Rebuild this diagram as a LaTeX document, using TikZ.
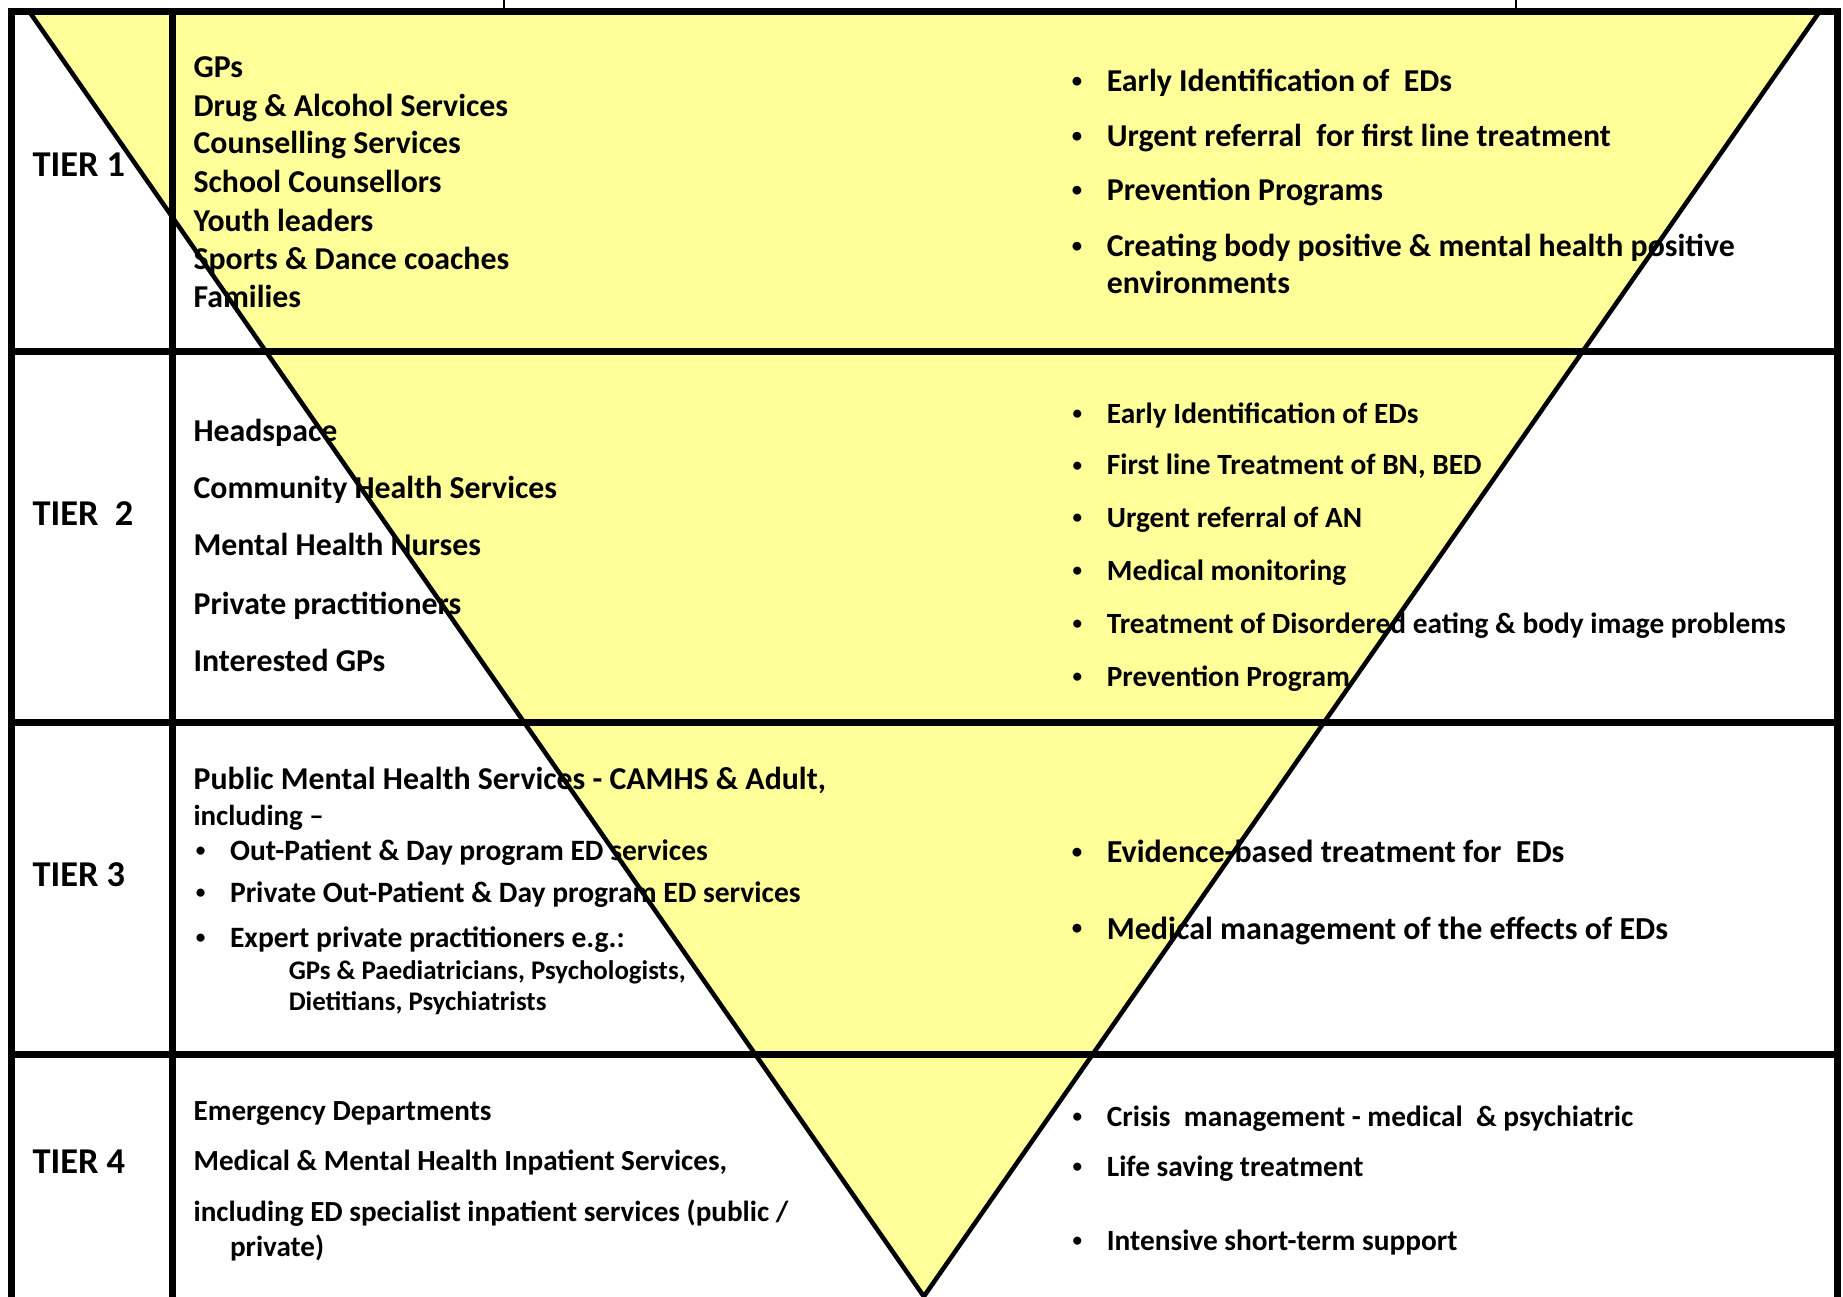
\documentclass[tikz,border=0pt]{standalone}
\usepackage{fontspec}
\usepackage{graphicx}
\setmainfont{Carlito}
\definecolor{pyramid}{HTML}{FFFF99}
\newcommand\bul{\llap{\raisebox{0.13em}{\scalebox{0.65}{\textbullet}}\hspace{0.21cm}}}

\begin{document}
\begin{tikzpicture}[x=0.01cm, y=-0.01cm,
    frame/.style={line width=1.7pt},
    cone/.style={line width=1.1pt},
    tier/.style={anchor=base west, inner sep=0pt, font=\bfseries\fontsize{8.8}{10}\selectfont},
    item/.style={anchor=base west, inner sep=0pt, font=\bfseries\fontsize{#1}{#1}\selectfont}]
    \useasboundingbox (0,0) rectangle (1568,1103);
    % yellow pyramid and table
    \fill[pyramid] (25,10) -- (1548,10) -- (786,1103) -- cycle;
    \draw[frame] (10,1115) -- (10,10) -- (1563,10) -- (1563,1115);
    \draw[frame] (147,10) -- (147,1115);
    \foreach \y in {299, 615, 897}
        \draw[frame] (10,\y) -- (1563,\y);
    \draw (429,0) -- (429,10) (1290,0) -- (1290,10);
    \draw[cone] (25,10) -- (786,1103) -- (1548,10);

    % tier labels
    \foreach \y/\t [count=\i] in {150/TIER 1, 447/TIER\ \ 2, 754/TIER 3, 998/TIER 4}
        \node[tier] (tier\i) at (27,\y) {\t};

    % who: left column
    \foreach \y/\t [count=\i] in {66/GPs, 99/Drug \& Alcohol Services, 131/Counselling Services,
        164/School Counsellors, 197/Youth leaders, 229/Sports \& Dance coaches, 262/Families}
        \node[item=7.7] (who1-\i) at (164,\y) {\t};
    \foreach \y/\t [count=\i] in {376/Headspace, 424/Community Health Services,
        473/Mental Health Nurses, 523/Private practitioners, 571/Interested GPs}
        \node[item=7.7] (who2-\i) at (164,\y) {\t};
    \node[item=7.7] (who3-1) at (164,672) {Public Mental Health Services - CAMHS \& Adult,};
    \node[item=7] (who3-2) at (164,702) {including \textendash};
    \foreach \y/\t [count=\i] in {732/Out-Patient \& Day program ED services,
        768/Private Out-Patient \& Day program ED services, 806/Expert private practitioners e.g.:}
        \node[item=7.15] (who3b-\i) at (195,\y) {\bul\t};
    \node[item=6.5] (who3-3) at (245,833) {GPs \& Paediatricians, Psychologists,};
    \node[item=6.5] (who3-4) at (245,860) {Dietitians, Psychiatrists};
    \foreach \y/\t [count=\i] in {953/Emergency Departments, 996/{Medical \& Mental Health Inpatient Services,},
        1039/{including ED specialist inpatient services (public /}}
        \node[item=7.05] (who4-\i) at (164,\y) {\t};
    \node[item=7.05] (who4-4) at (195,1069) {private)};

    % what: right column
    \foreach \y/\t [count=\i] in {78/Early Identification of\ \ EDs, 125/Urgent referral\ \ for first line treatment,
        171/Prevention Programs, 218/Creating body positive \& mental health positive}
        \node[item=7.7] (do1-\i) at (941,\y) {\bul\t};
    \node[item=7.7] (do1-5) at (941,250) {environments};
    \foreach \y/\t [count=\i] in {360/Early Identification of EDs, 404/{First line Treatment of BN, BED},
        449/Urgent referral of AN, 494/Medical monitoring,
        539/Treatment of Disordered eating \& body image problems, 584/Prevention Program}
        \node[item=7.1] (do2-\i) at (941,\y) {\bul\t};
    \foreach \y/\t [count=\i] in {734/Evidence-based treatment for\ \ EDs, 799/Medical management of the effects of EDs}
        \node[item=7.75] (do3-\i) at (941,\y) {\bul\t};
    \foreach \y/\t [count=\i] in {958/Crisis\ \ management - medical\ \ \& psychiatric, 1001/Life saving treatment,
        1064/Intensive short-term support}
        \node[item=7.1] (do4-\i) at (941,\y) {\bul\t};
\end{tikzpicture}
\end{document}
